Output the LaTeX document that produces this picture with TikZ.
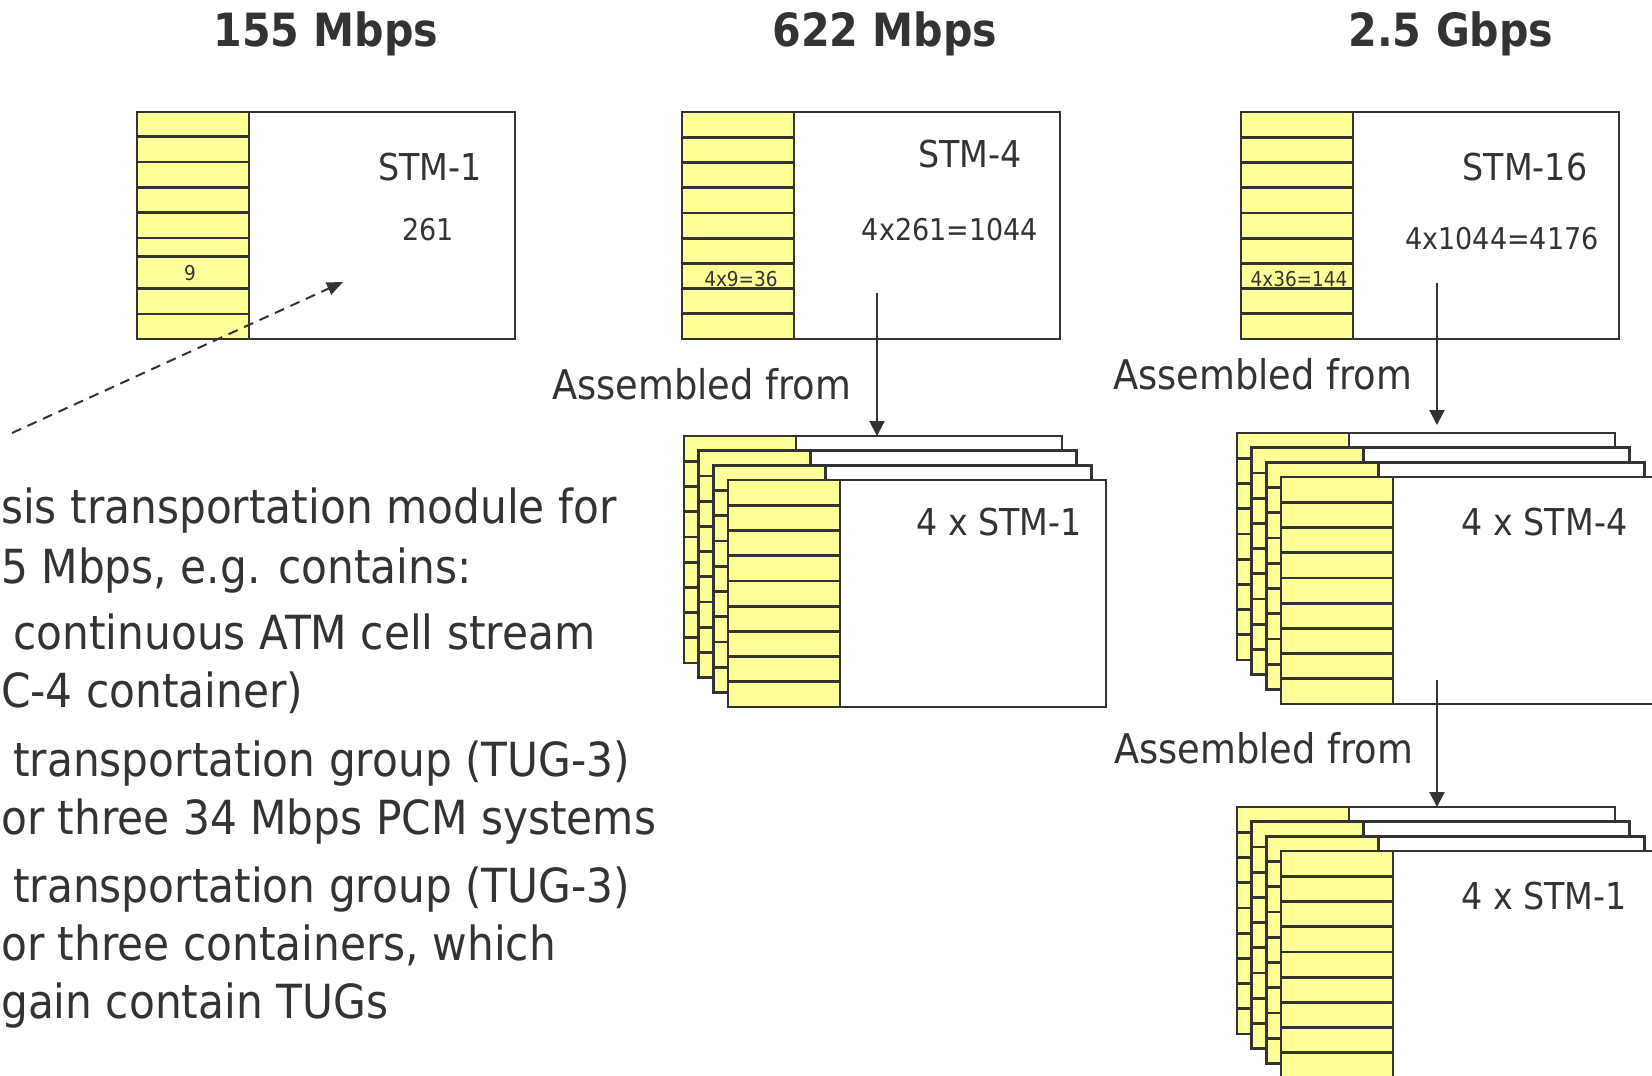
\documentclass[tikz,border=0pt]{standalone}
\usepackage{fontspec}
\setmainfont{DejaVu Sans}[FakeStretch=0.9]
\usetikzlibrary{arrows.meta}
\definecolor{ink}{HTML}{333333}
\definecolor{cellyellow}{HTML}{FFFF99}
\tikzset{
  framebody/.style={draw=ink, fill=white, line width=2.8pt, rectangle, minimum width=378pt, minimum height=227pt, inner sep=0pt, outer sep=0pt, anchor=north west},
  rowline/.style={draw=ink, line width=2.8pt},
  txt/.style={text=ink, inner sep=0pt},
  title/.style={txt, font=\bfseries\fontsize{45.8}{50}\selectfont, anchor=base},
  stmlbl/.style={txt, font=\fontsize{37}{40}\selectfont, anchor=base},
  numlbl/.style={txt, font=\fontsize{30}{34}\selectfont, anchor=base},
  smalllbl/.style={txt, font=\fontsize{20.5}{24}\selectfont, anchor=base},
  asmlbl/.style={txt, font=\fontsize{40.9}{46}\selectfont, anchor=base west},
  bullet/.style={txt, font=\fontsize{47}{52}\selectfont},
  connector/.style={draw=ink, line width=2.2pt, -{Triangle[length=15pt,width=15pt]}},
  dashconn/.style={draw=ink, line width=2pt, dash pattern=on 10pt off 7pt, -{Triangle[length=16pt,width=13pt]}}
}
\newcommand\stmframe[4][25.2,50.4,75.7,100.9,126.1,151.3,176.6,201.8]{%
  \node[framebody] (#2) at (#3,#4) {};
  \filldraw[fill=cellyellow, draw=ink, line width=2.8pt] (#3,#4) rectangle ++(112,227);
  \foreach \r in {#1} {\draw[rowline] (#3,#4+\r) -- ++(112,0);}
}
\begin{document}
\begin{tikzpicture}[x=1pt, y=-1pt]
\useasboundingbox (0,0) rectangle (1652,1076);
\clip (0,0) rectangle (1652,1076);
\fill[white] (0,0) rectangle (1652,1076);

% titles
\node[title] (t1) at (326,46) {155 Mbps};
\node[title] (t2) at (885,46) {622 Mbps};
\node[title] (t3) at (1451,46) {2.5 Gbps};

% top frames
\stmframe[24.7,50,75.3,100.7,126,144.7,176.7,202]{stmA}{137}{112}
\stmframe{stmB}{682}{112}
\stmframe{stmC}{1241}{112}

\node[stmlbl] (a1) at (430,180) {STM-1};
\node[numlbl] (a2) at (428,240) {261};
\node[smalllbl] (a3) at (190,280) {9};

\node[stmlbl] (b1) at (970,167) {STM-4};
\node[numlbl] (b2) at (950,240) {4x261=1044};
\node[smalllbl] (b3) at (741,286) {4x9=36};

\node[stmlbl] (c1) at (1525,180) {STM-16};
\node[numlbl] (c2) at (1502,249) {4x1044=4176};
\node[smalllbl] (c3) at (1299,286) {4x36=144};

% middle stack (4 x STM-1)
\stmframe{mA}{684}{436}
\stmframe{mB}{698.7}{450.7}
\stmframe{mC}{713.3}{465.3}
\stmframe{mD}{728}{480}
\node[stmlbl] (m1) at (999,535) {4 x STM-1};

% right top stack (4 x STM-4)
\stmframe{rA}{1237}{433}
\stmframe{rB}{1251.7}{447.7}
\stmframe{rC}{1266.3}{462.3}
\stmframe{rD}{1281}{477}
\node[stmlbl] (r1) at (1544.5,535) {4 x STM-4};

% right bottom stack (4 x STM-1)
\stmframe{qA}{1237}{807}
\stmframe{qB}{1251.7}{821.7}
\stmframe{qC}{1266.3}{836.3}
\stmframe{qD}{1281}{851}
\node[stmlbl] (q1) at (1544,909) {4 x STM-1};

% "Assembled from" labels
\node[asmlbl] (s1) at (552,399) {Assembled from};
\node[asmlbl] (s2) at (1113,389) {Assembled from};
\node[asmlbl] (s3) at (1114,763) {Assembled from};

% connectors
\coordinate (pB) at (877,293);
\coordinate (pC) at (1437,283);
\coordinate (pR) at (1437,680);
\draw[connector] (pB) -- (pB |- mA.north);
\draw[connector, shorten >=8pt] (pC) -- (pC |- rA.north);
\draw[connector] (pR) -- (pR |- qA.north);

\coordinate (dstart) at (12,433);
\coordinate (dend) at (343,282);
\draw[dashconn] (dstart) -- (dend);

% bullet text
\node[bullet, anchor=base west] (x1) at (1,523) {sis transportation module for};
\node[bullet, anchor=base west] (x2) at (1,583) {5 Mbps, e.g. contains:};
\node[bullet, anchor=base west] (x3) at (13,649) {continuous ATM cell stream};
\node[bullet, anchor=base west] (x4) at (1,707) {C-4 container)};
\node[bullet, anchor=base west] (x5) at (13,776) {transportation group (TUG-3)};
\node[bullet, anchor=base west] (x6) at (1,834) {or three 34 Mbps PCM systems};
\node[bullet, anchor=base west] (x7) at (13,902) {transportation group (TUG-3)};
\node[bullet, anchor=base west] (x8) at (1,960) {or three containers, which};
\node[bullet, anchor=base west] (x9) at (1,1018) {gain contain TUGs};
\end{tikzpicture}
\end{document}
